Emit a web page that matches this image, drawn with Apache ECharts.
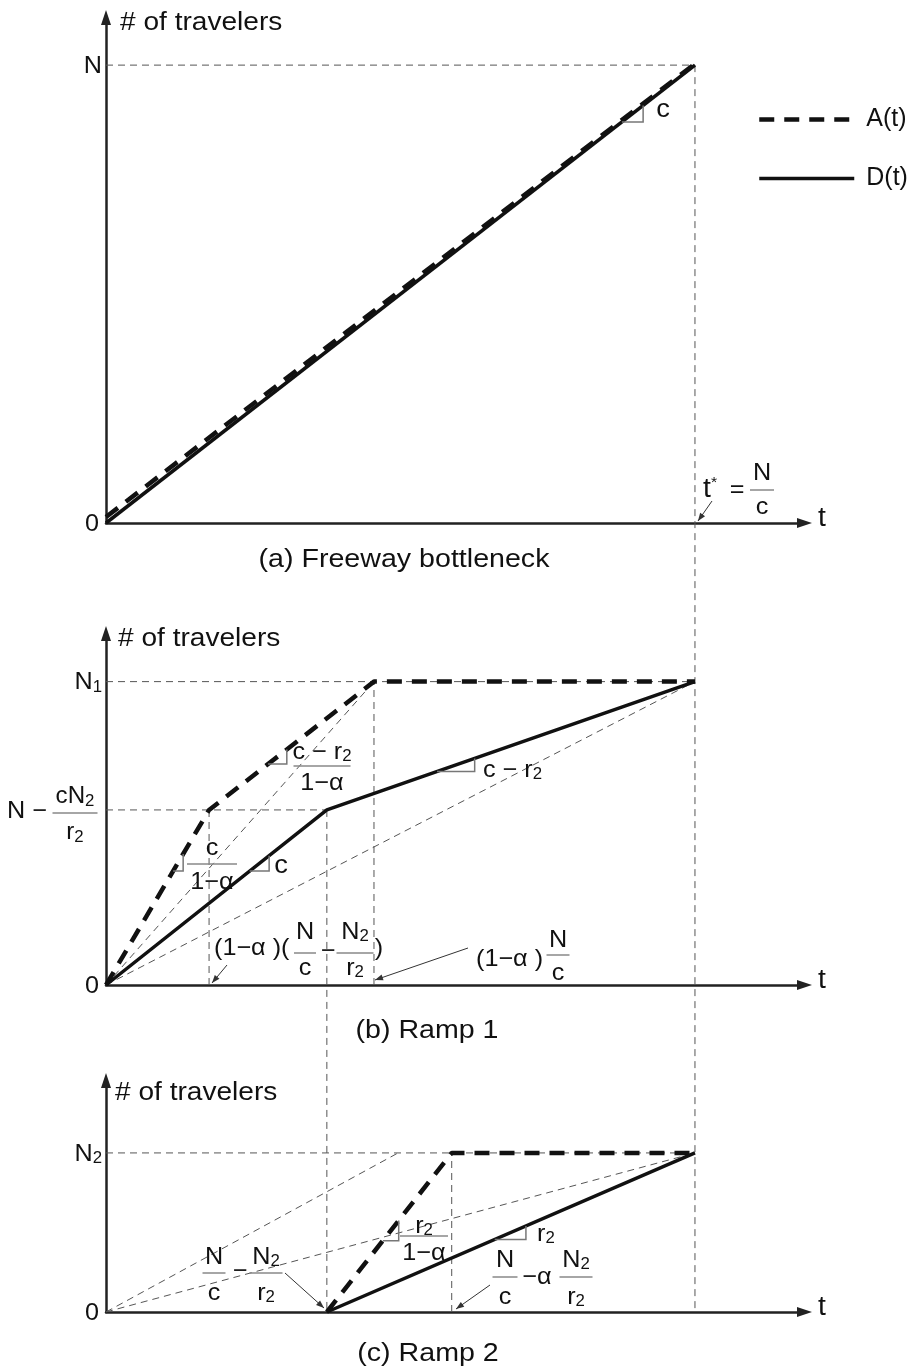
<!DOCTYPE html>
<html><head><meta charset="utf-8">
<script src="https://cdn.jsdelivr.net/npm/echarts@6/dist/echarts.min.js"></script>
<style>html,body{margin:0;padding:0;background:#fff}#chart{width:916px;height:1369px}</style>
</head><body><div id="chart"></div>
<script>
// ---------- data (time in units where t* = N/c = 10, counts where N = 100) ----------
const tStar = 10;
const N = 100;
const freewayArrivals = [[0, 1.3], [10, 100.3]];
const freewayDepartures = [[0, 0], [10, 100]];
const ramp1Arrivals = [[0, 0], [1.75, 38.2], [4.55, 66.2], [10, 66.2]];
const ramp1Departures = [[0, 0], [3.75, 38.2], [10, 66.2]];
const ramp2Arrivals = [[3.75, 0], [5.87, 34.7], [10, 34.7]];
const ramp2Departures = [[3.75, 0], [10, 34.7]];
const ramp2GuidePoint = [4.96, 34.7];
const seriesNames = ['A(t)', 'D(t)'];
const panelCaptions = ['(a) Freeway bottleneck', '(b) Ramp 1', '(c) Ramp 2'];
const yAxisTitle = '# of travelers';
const xAxisTitle = 't';
const freewayTickValues = [0, N];
const freewayTickLabels = ['0', 'N'];
const ramp1TickValues = [0, 66.2];
const ramp1TickLabels = ['0', 'N{s|1}'];
const ramp2TickValues = [0, 34.7];
const ramp2TickLabels = ['0', 'N{s|2}'];
// slope-marker positions: [panel, curve, t start, t end]
const slopeMarks = [
  [0, freewayDepartures, 8.76, 9.12],
  [1, ramp1Departures, 2.44, 2.77],
  [1, ramp1Departures, 5.62, 6.26],
  [1, ramp1Arrivals, 1.14, 1.31],
  [1, ramp1Arrivals, 2.75, 3.07],
  [2, ramp2Arrivals, 4.70, 4.97],
  [2, ramp2Departures, 6.60, 7.13]
];

// ---------- layout / style ----------
const FONT = '"Liberation Sans", Arial, Helvetica, sans-serif';
const INK = '#111';
const xMax = 11.86;
const yMaxes = [110.4, 76.7, 50.5];
const grids = [
  {left: 106, top: 17.5, width: 698.5, height: 505.5},
  {left: 106, top: 633.5, width: 698.5, height: 351.5},
  {left: 106, top: 1080.5, width: 698.5, height: 231.5}
];
const thickDash = {color: INK, width: 4.5, type: [15, 10]};
const solid = {color: INK, width: 3.5};
const guide = {color: '#555', width: 1, type: [7, 5]};

const chart = echarts.init(document.getElementById('chart'), null, {renderer: 'canvas'});

const axisLine = {show: true, symbol: ['none', 'triangle'], symbolSize: [10, 15], lineStyle: {color: '#222', width: 2.5}};
const xAxes = grids.map((g, i) => ({type: 'value', gridIndex: i, min: 0, max: xMax, axisLine, axisTick: {show: false}, axisLabel: {show: false}, splitLine: {show: false}}));
const yAxes = grids.map((g, i) => ({type: 'value', gridIndex: i, min: 0, max: yMaxes[i], axisLine, axisTick: {show: false}, axisLabel: {show: false}, splitLine: {show: false}}));

const guideSegments = [
  [[[0, freewayDepartures[1][1]], freewayDepartures[1]]],
  [
    [[0, ramp1Arrivals[2][1]], ramp1Arrivals[3]],
    [[0, ramp1Departures[1][1]], ramp1Departures[1]],
    [[ramp1Arrivals[1][0], 0], ramp1Arrivals[1]],
    [[ramp1Arrivals[2][0], 0], ramp1Arrivals[2]],
    [[0, 0], ramp1Arrivals[2]],
    [[0, 0], ramp1Departures[2]]
  ],
  [
    [[0, ramp2Arrivals[2][1]], ramp2Arrivals[2]],
    [[ramp2Arrivals[1][0], 0], ramp2Arrivals[1]],
    [[0, 0], ramp2GuidePoint],
    [[0, 0], ramp2Departures[1]]
  ]
];
const curves = [[freewayArrivals, freewayDepartures], [ramp1Arrivals, ramp1Departures], [ramp2Arrivals, ramp2Departures]];

const series = [];
guideSegments.forEach((segs, gi) => segs.forEach(seg => series.push({
  type: 'line', name: 'guide', xAxisIndex: gi, yAxisIndex: gi, data: seg, symbol: 'none', silent: true, z: 1, lineStyle: guide
})));
curves.forEach((pair, gi) => {
  series.push({type: 'line', name: seriesNames[0], xAxisIndex: gi, yAxisIndex: gi, data: pair[0], symbol: 'none', silent: true, z: 3, lineStyle: thickDash});
  series.push({type: 'line', name: seriesNames[1], xAxisIndex: gi, yAxisIndex: gi, data: pair[1], symbol: 'none', silent: true, z: 3, lineStyle: solid});
});

chart.setOption({
  animation: false,
  backgroundColor: '#fff',
  grid: grids.map(g => Object.assign({outerBoundsMode: 'none', containLabel: false}, g)),
  xAxis: xAxes,
  yAxis: yAxes,
  legend: {
    data: seriesNames, orient: 'vertical', left: 752, top: 102, itemWidth: 95, itemHeight: 14, itemGap: 34,
    selectedMode: false,
    textStyle: {fontSize: 25, fontFamily: FONT, color: INK, padding: [0, 0, 0, 7]},
    itemStyle: {color: 'rgba(0,0,0,0)', borderWidth: 0, borderColor: 'rgba(0,0,0,0)'},
    lineStyle: {width: 'inherit'}
  },
  series
});

// ---------- annotations ----------
function pt(gi, p) { return chart.convertToPixel({gridIndex: gi}, p); }
function interp(points, t) {
  for (let i = 0; i < points.length - 1; i++) {
    const [x0, y0] = points[i], [x1, y1] = points[i + 1];
    if (t >= x0 && t <= x1) return y0 + (y1 - y0) * (t - x0) / (x1 - x0);
  }
  return 0;
}
const G = [];
function richFor(size) {
  return {
    s: {fontSize: Math.round(size * 0.68), fontFamily: FONT, fill: INK, lineHeight: 8, verticalAlign: 'bottom'},
    p: {fontSize: Math.round(size * 0.55), fontFamily: FONT, fill: INK, lineHeight: 6, verticalAlign: 'top'}
  };
}
function addLine(x1, y1, x2, y2, style, z) {
  G.push({type: 'line', silent: true, z: z || 5, shape: {x1, y1, x2, y2}, style: Object.assign({fill: null}, style)});
}
function addText(x, y, str, o) {
  o = o || {};
  const size = o.size || 24;
  G.push({type: 'text', silent: true, z: 10, x, y, scaleX: o.sx || 1.05,
    style: {text: str, fill: INK, fontSize: size, fontFamily: FONT, align: o.align || 'center', verticalAlign: 'middle',
      lineHeight: Math.round(size * 1.1), rich: richFor(size)}});
}
function addFrac(cx, ny, ly, dy, w, num, den, o) {
  addText(cx, ny, num, o);
  addLine(cx - w / 2, ly, cx + w / 2, ly, {stroke: '#888', lineWidth: 1.5});
  addText(cx, dy, den, o);
}
function addArrow(x1, y1, x2, y2) {
  addLine(x1, y1, x2, y2, {stroke: '#333', lineWidth: 1});
  const a = Math.atan2(y2 - y1, x2 - x1), L = 8, W = 3;
  G.push({type: 'polygon', silent: true, z: 6, shape: {points: [
    [x2, y2],
    [x2 - L * Math.cos(a) + W * Math.sin(a), y2 - L * Math.sin(a) - W * Math.cos(a)],
    [x2 - L * Math.cos(a) - W * Math.sin(a), y2 - L * Math.sin(a) + W * Math.cos(a)]
  ]}, style: {fill: '#333'}});
}

// cross-panel guide lines
const gStyle = {stroke: '#555', lineWidth: 1, lineDash: [7, 5]};
(function () {
  const a = pt(0, [tStar, N]), b = pt(2, [tStar, 0]);
  addLine(a[0], a[1], b[0], b[1], gStyle, 1);
  const c = pt(1, ramp1Departures[1]), d = pt(2, [ramp1Departures[1][0], 0]);
  addLine(c[0], c[1], d[0], d[1], gStyle, 1);
})();

// slope triangles
slopeMarks.forEach(([gi, pts, ta, tb]) => {
  const a = pt(gi, [ta, interp(pts, ta)]), b = pt(gi, [tb, interp(pts, tb)]);
  G.push({type: 'polyline', silent: true, z: 4, shape: {points: [a, [b[0], a[1]], b]}, style: {stroke: '#777', lineWidth: 1.5, fill: null}});
});

// tick labels and axis titles
[[freewayTickValues, freewayTickLabels], [ramp1TickValues, ramp1TickLabels], [ramp2TickValues, ramp2TickLabels]].forEach(([vals, labs], gi) => {
  vals.forEach((v, k) => { const p = pt(gi, [0, v]); addText(k === 0 ? 99 : 102, p[1] + 1, labs[k], {size: 24, align: 'right'}); });
  const e = pt(gi, [xMax, 0]);
  addText(818, e[1] - 4, xAxisTitle, {size: 27, align: 'left'});
});
addText(120, 23, yAxisTitle, {size: 26, align: 'left', sx: 1.08});
addText(118, 639, yAxisTitle, {size: 26, align: 'left', sx: 1.08});
addText(115, 1093, yAxisTitle, {size: 26, align: 'left', sx: 1.08});

// panel (a)
addText(663, 110, 'c', {size: 26});
addText(703, 490, 't{p|*}', {size: 27, align: 'left'});
addText(737, 490, '=');
addFrac(762, 473, 490, 507, 24, 'N', 'c');
addArrow(712, 501, 698, 521);
addText(404, 560, panelCaptions[0], {size: 26, sx: 1.1});

// panel (b)
(function () {
  const p = pt(1, [0, ramp1Departures[1][1]]);
  addText(47, p[1] + 1, 'N −', {size: 24, align: 'right'});
  addFrac(75, p[1] - 13, p[1] + 3, p[1] + 23, 45, 'cN{s|2}', 'r{s|2}', {size: 23});
})();
addText(281, 866, 'c', {size: 26});
addText(483, 770, 'c − r{s|2}', {align: 'left'});
addFrac(322, 752, 766, 783, 57, 'c − r{s|2}', '1−α');
addFrac(212, 848, 864, 882, 50, 'c', '1−α');
addText(214, 948, '(1−α )(', {align: 'left'});
addFrac(305, 932, 953, 968, 22, 'N', 'c');
addText(328, 951, '−');
addFrac(355, 932, 953, 968, 37, 'N{s|2}', 'r{s|2}');
addText(379, 948, ')');
addArrow(227, 965, 212, 983);
addText(476, 959, '(1−α )', {align: 'left'});
addFrac(558, 940, 955, 973, 23, 'N', 'c');
addArrow(468, 948, 375, 980);
addText(427, 1031, panelCaptions[1], {size: 26, sx: 1.1});

// panel (c)
addFrac(424, 1226, 1236, 1253, 48, 'r{s|2}', '1−α');
addText(537, 1234, 'r{s|2}', {align: 'left'});
addFrac(214, 1257, 1273, 1293, 23, 'N', 'c');
addText(240, 1271, '−');
addFrac(266, 1257, 1273, 1293, 33, 'N{s|2}', 'r{s|2}');
addArrow(285, 1273, 324, 1308);
addFrac(505, 1260, 1277, 1297, 25, 'N', 'c');
addText(537, 1277, '−α');
addFrac(576, 1260, 1277, 1297, 33, 'N{s|2}', 'r{s|2}');
addArrow(490, 1285, 456, 1309);
addText(428, 1354, panelCaptions[2], {size: 26, sx: 1.1});

chart.setOption({graphic: {elements: G}});
</script>
</body></html>
